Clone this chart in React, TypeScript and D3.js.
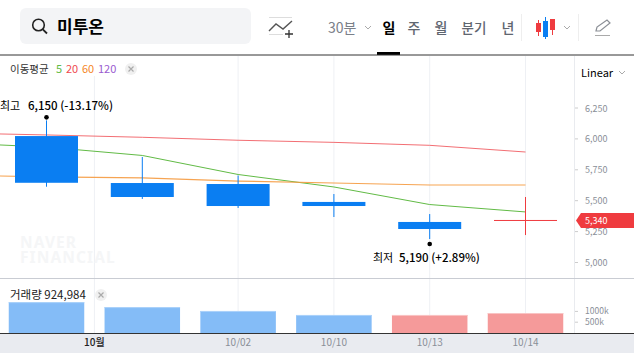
import React from "react";
import * as d3 from "d3";

const candleDates = ["c1", "c2", "c3", "c4", "c5", "c6"];
const opens = [6023, 5643, 5635, 5490, 5328, 5340];
const closes = [5645, 5530, 5457, 5457, 5271, 5340];
const highs = [6150, 5854, 5704, 5554, 5392, 5530];
const lows = [5613, 5514, 5441, 5368, 5190, 5222];
const ma5 = [5934, 5866, 5712, 5611, 5469, 5409];
const ma20 = [6032, 6013, 5989, 5972, 5948, 5894];
const ma60 = [5692, 5684, 5659, 5643, 5627, 5627];
const ma5Edge = 5951;
const ma20Edge = 6040;
const ma60Edge = 5700;
const volumes = [1430, 1200, 1020, 835, 835, 925];
const volumeUp = [false, false, false, false, true, true];
const priceTicks = [6250, 6000, 5750, 5500, 5250, 5000];
const volumeTicks = [1000, 500];
const tabs = ["일", "주", "월", "분기", "년"];
const xLabels = [
  { label: "10월", pos: 0.5, bold: true },
  { label: "10/02", pos: 2, bold: false },
  { label: "10/10", pos: 3, bold: false },
  { label: "10/13", pos: 4, bold: false },
  { label: "10/14", pos: 5, bold: false },
];

const font = "'Noto Sans CJK KR','Noto Sans',sans-serif";
const W = 634;
const H = 353;
const BLUE = "#0a7ef2";
const RED = "#ef3b3f";

export default function App() {
  const x = d3.scaleLinear().domain([0, 5]).range([46.5, 525.5]);
  const y = d3.scaleLinear().domain([5000, 6250]).range([262.5, 108]);
  const v = d3.scaleLinear().domain([0, 1000]).range([333, 311.4]);
  const bw = 63;
  const vw = 75.5;
  const maLine = d3
    .line<number>()
    .x((_, i) => x(i))
    .y((d) => y(d));
  const extLine = (vals: number[], edge: number) =>
    `M0,${y(edge)}L` + (maLine(vals) as string).slice(1);

  React.useEffect(() => {
    document.body.style.margin = "0";
    document.body.style.background = "#fff";
  }, []);

  return (
    <svg width={W} height={H} viewBox={`0 0 ${W} ${H}`} style={{ display: "block", fontFamily: font }}>
      <rect width={W} height={H} fill="#fff" />
      {/* search box */}
      <rect x={20} y={8} width={231} height={36} rx={6} fill="#f3f4f6" />
      <circle cx={38.5} cy={25} r={5.8} fill="none" stroke="#222" strokeWidth={1.6} />
      <line x1={42.8} y1={29.3} x2={47} y2={33.5} stroke="#222" strokeWidth={1.8} />
      <text x={57} y={32.5} fontSize={17} fontWeight={700} fill="#000">미투온</text>
      {/* indicator icon */}
      <g fill="none" stroke="#555">
        <line x1={269} y1={17.5} x2={292} y2={17.5} stroke="#ddd" />
        <line x1={269} y1={34.5} x2={283} y2={34.5} stroke="#ddd" />
        <path d="M269,31 L276,24 L283,29 L292,21" strokeWidth={1.4} />
        <path d="M289,30 V38 M285,34 H293" stroke="#333" strokeWidth={1.3} />
      </g>
      {/* period tabs */}
      <text x={328} y={33} fontSize={14} fill="#7b8089">30분</text>
      <path d="M365,26 L368,29 L371,26" fill="none" stroke="#aaa" />
      {tabs.map((t, i) => {
        const xs = [389, 414, 441, 474, 508];
        return (
          <text key={t} x={xs[i]} y={32.5} textAnchor="middle" fontSize={i === 3 ? 13.5 : 14} fontWeight={i === 0 ? 700 : 500} fill={i === 0 ? "#000" : "#5f6670"}>
            {t}
          </text>
        );
      })}
      <rect x={377} y={52} width={23} height={3} fill="#000" />
      <line x1={521.5} y1={14} x2={521.5} y2={41} stroke="#eee" />
      <line x1={578.5} y1={14} x2={578.5} y2={41} stroke="#eee" />
      {/* chart-type icon */}
      <g>
        <rect x={536} y={23} width={5} height={9} fill={RED} />
        <line x1={538.5} y1={20} x2={538.5} y2={36} stroke={RED} />
        <rect x={543} y={21} width={5} height={16} fill={BLUE} />
        <line x1={545.5} y1={17} x2={545.5} y2={39} stroke={BLUE} />
        <rect x={550} y={19} width={5} height={11} fill={RED} />
        <line x1={552.5} y1={19} x2={552.5} y2={35} stroke={RED} />
      </g>
      <path d="M564,26 L567,29 L570,26" fill="none" stroke="#aaa" />
      {/* pencil */}
      <path d="M596,31 L597,27 L607,20 L610,23 L600,31 Z" fill="none" stroke="#8b8f96" strokeWidth={1.2} />
      <line x1={595} y1={35.5} x2={610} y2={35.5} stroke="#aaa" />

      <line x1={0} y1={55} x2={W} y2={55} stroke="#333" strokeWidth={1} />

      {/* grid */}
      {xLabels.map((d) => (
        <line key={d.label} x1={x(d.pos)} x2={x(d.pos)} y1={d.pos === 0.5 ? 76 : 56} y2={333} stroke="#eef0f4" />
      ))}
      <line x1={574.5} x2={574.5} y1={56} y2={333} stroke="#e9ebef" />

      {/* watermark */}
      <g fill="#f5f6f7" fontSize={15.5} fontWeight={700} fontFamily="'Noto Sans',sans-serif" letterSpacing={1.1}>
        <text x={20} y={248}>NAVER</text>
        <text x={20} y={263}>FINANCIAL</text>
      </g>

      {/* moving averages */}
      <path d={extLine(ma20, ma20Edge)} fill="none" stroke="#f0555a" strokeWidth={1} opacity={0.85} />
      <path d={extLine(ma5, ma5Edge)} fill="none" stroke="#62bb46" strokeWidth={1} />
      <path d={extLine(ma60, ma60Edge)} fill="none" stroke="#f59a3f" strokeWidth={1.2} opacity={0.9} />

      {/* candles */}
      {candleDates.map((d, i) => {
        const flat = closes[i] === opens[i];
        const c = closes[i] >= opens[i] ? RED : BLUE;
        const top = y(Math.max(opens[i], closes[i]));
        const bottom = y(Math.min(opens[i], closes[i]));
        return (
          <g key={d}>
            <line x1={x(i)} x2={x(i)} y1={y(highs[i])} y2={y(lows[i])} stroke={c} strokeWidth={1} />
            {flat ? (
              <line x1={x(i) - bw / 2} x2={x(i) + bw / 2} y1={top} y2={top} stroke={c} />
            ) : (
              <rect x={x(i) - bw / 2} y={top} width={bw} height={bottom - top} fill={c} />
            )}
          </g>
        );
      })}

      {/* high & low annotation */}
      <circle cx={x(0)} cy={y(highs[0]) - 3} r={2.3} fill="#000" />
      <text x={0} y={109.5} fontSize={11} fill="#000">최고</text>
      <text x={28} y={109.5} fontSize={11.5} fontWeight={500} fill="#000">6,150 (-13.17%)</text>
      <circle cx={x(4)} cy={y(lows[4]) + 5} r={2.3} fill="#000" />
      <text x={373} y={262} fontSize={11} fill="#000">최저</text>
      <text x={399} y={262} fontSize={11.5} fontWeight={500} fill="#000">5,190 (+2.89%)</text>

      {/* legend */}
      <text x={10} y={73} fontSize={10.5} fill="#333">이동평균</text>
      <text x={56} y={73} fontSize={11} fill="#62bb46">5</text>
      <text x={66} y={73} fontSize={11} fill="#ef4a50">20</text>
      <text x={82} y={73} fontSize={11} fill="#f5861f">60</text>
      <text x={98} y={73} fontSize={11} fill="#9a5bd0">120</text>
      <circle cx={131} cy={69} r={6} fill="#f0f0f0" />
      <path d="M128.5,66.5 L133.5,71.5 M133.5,66.5 L128.5,71.5" stroke="#aaa" strokeWidth={1.2} />

      {/* right axis */}
      <text x={581} y={77} fontSize={11} fill="#000">Linear</text>
      <path d="M619,71 L622,74 L625,71" fill="none" stroke="#aaa" />
      {priceTicks.map((t) => (
        <g key={t}>
          <line x1={575} x2={578} y1={y(t)} y2={y(t)} stroke="#ccc" />
          <text x={585} y={y(t) + 3.5} fontSize={9} fill="#8a8f98">{d3.format(",")(t)}</text>
        </g>
      ))}
      <path d={`M576,${y(5340)} L581,${y(5340) - 7.5} H634 V${y(5340) + 7.5} H581 Z`} fill={RED} />
      <text x={585} y={y(5340) + 3.5} fontSize={9} fill="#fff">{d3.format(",")(5340)}</text>

      {/* volume pane */}
      <line x1={0} y1={278.5} x2={W} y2={278.5} stroke="#c9ccd3" />
      {volumes.map((d, i) => (
        <g key={candleDates[i]}>
          <rect x={x(i) - vw / 2} y={v(d)} width={vw} height={333 - v(d)} fill={volumeUp[i] ? "#f59a9a" : "#84bcf7"} />
          <rect x={x(i) - vw / 2} y={v(d)} width={vw} height={1} fill={volumeUp[i] ? "#f9c4c4" : "#acd2fa"} />
        </g>
      ))}
      <text x={10} y={299} fontSize={11.5} fill="#222">거래량 924,984</text>
      <circle cx={101} cy={295} r={6} fill="#f0f0f0" />
      <path d="M98.5,292.5 L103.5,297.5 M103.5,292.5 L98.5,297.5" stroke="#aaa" strokeWidth={1.2} />
      {volumeTicks.map((t) => (
        <g key={t}>
          <line x1={575} x2={578} y1={v(t)} y2={v(t)} stroke="#ccc" />
          <text x={585} y={v(t) + 3} fontSize={8.5} fill="#8a8f98">{t}k</text>
        </g>
      ))}

      {/* time axis */}
      <rect x={0} y={334} width={W} height={19} fill="#e9ebf0" />
      <line x1={0} y1={333.5} x2={W} y2={333.5} stroke="#333" />
      {xLabels.map((d) => (
        <text key={d.label} x={x(d.pos)} y={346} textAnchor="middle" fontSize={10} fill={d.bold ? "#222" : "#8a8f98"} fontWeight={d.bold ? 500 : 400}>
          {d.label}
        </text>
      ))}
    </svg>
  );
}
